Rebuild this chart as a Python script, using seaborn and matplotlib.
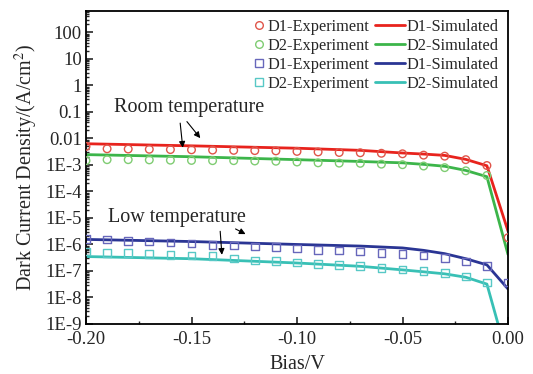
import numpy as np
import pandas as pd
import matplotlib
matplotlib.use("Agg")
import matplotlib.pyplot as plt
import matplotlib.ticker as mticker
from matplotlib.lines import Line2D
import seaborn as sns

# ---------------- data ----------------
bias_exp = [-0.20, -0.19, -0.18, -0.17, -0.16, -0.15, -0.14, -0.13, -0.12, -0.11,
            -0.10, -0.09, -0.08, -0.07, -0.06, -0.05, -0.04, -0.03, -0.02, -0.01, 0.00]

d1_room_exp = [5.0e-3, 4.07e-3, 3.98e-3, 3.89e-3, 3.80e-3, 3.72e-3, 3.63e-3, 3.55e-3, 3.47e-3, 3.39e-3,
               3.24e-3, 3.09e-3, 2.95e-3, 2.88e-3, 2.75e-3, 2.63e-3, 2.34e-3, 2.14e-3, 1.58e-3, 9.5e-4, 1.8e-6]
d2_room_exp = [1.45e-3, 1.58e-3, 1.58e-3, 1.55e-3, 1.51e-3, 1.48e-3, 1.45e-3, 1.45e-3, 1.41e-3, 1.38e-3,
               1.29e-3, 1.20e-3, 1.17e-3, 1.15e-3, 1.07e-3, 1.02e-3, 9.1e-4, 7.9e-4, 6.0e-4, 4.0e-4]
d1_low_exp = [1.58e-6, 1.55e-6, 1.38e-6, 1.29e-6, 1.17e-6, 1.07e-6, 9.8e-7, 9.1e-7, 8.5e-7, 7.9e-7,
              7.1e-7, 6.3e-7, 5.9e-7, 5.4e-7, 4.8e-7, 4.4e-7, 3.9e-7, 3.1e-7, 2.3e-7, 1.58e-7, 3.7e-8]
d2_low_exp = [5.4e-7, 4.8e-7, 4.7e-7, 4.3e-7, 4.1e-7, 3.9e-7, 3.7e-7, 2.95e-7, 2.45e-7, 2.35e-7,
              2.1e-7, 1.86e-7, 1.7e-7, 1.55e-7, 1.32e-7, 1.12e-7, 9.8e-8, 8.5e-8, 6.2e-8, 3.7e-8]

bias_sim = [-0.20, -0.15, -0.10, -0.07, -0.05, -0.04, -0.03, -0.02, -0.01, 0.00]
d1_room_sim = [6.3e-3, 5.25e-3, 4.27e-3, 3.55e-3, 2.82e-3, 2.57e-3, 2.29e-3, 1.62e-3, 9.3e-4, 3.2e-6]
d2_room_sim = [2.45e-3, 2.04e-3, 1.58e-3, 1.35e-3, 1.20e-3, 1.05e-3, 8.9e-4, 6.2e-4, 3.6e-4, 4.2e-7]
d1_low_sim = [1.55e-6, 1.29e-6, 1.0e-6, 8.7e-7, 7.4e-7, 6.0e-7, 4.5e-7, 2.9e-7, 1.7e-7, 2.1e-8]
d2_low_sim = [3.5e-7, 2.9e-7, 2.0e-7, 1.5e-7, 1.1e-7, 9.3e-8, 7.8e-8, 5.8e-8, 3.2e-8, 4.6e-11]

ytick_values = [1e2, 1e1, 1e0, 1e-1, 1e-2, 1e-3, 1e-4, 1e-5, 1e-6, 1e-7, 1e-8, 1e-9]
ytick_labels = ["100", "10", "1", "0.1", "0.01", "1E-3", "1E-4", "1E-5", "1E-6", "1E-7", "1E-8", "1E-9"]
xtick_values = [-0.20, -0.15, -0.10, -0.05, 0.00]
xtick_labels = ["-0.20", "-0.15", "-0.10", "-0.05", "0.00"]

exp_labels = ["D1-Experiment", "D2-Experiment", "D1-Experiment", "D2-Experiment"]
sim_labels = ["D1-Simulated", "D2-Simulated", "D1-Simulated", "D2-Simulated"]

# ---------------- style ----------------
sns.set_style("ticks")
plt.rcParams["font.family"] = ["Liberation Serif", "DejaVu Serif"]
plt.rcParams["mathtext.fontset"] = "stix"

line_colors = ["#e8231d", "#3cb54a", "#2a3594", "#38c0b5"]
mark_colors = ["#e0554a", "#7fcc72", "#6767bb", "#58c8c6"]
markers = ["o", "o", "s", "s"]

fig = plt.figure(figsize=(5.33, 3.74), dpi=100)
ax = fig.add_axes([86 / 533, 1 - 324 / 374, 422 / 533, 313 / 374])

exp_sets = [d1_room_exp, d2_room_exp, d1_low_exp, d2_low_exp]
sim_sets = [d1_room_sim, d2_room_sim, d1_low_sim, d2_low_sim]

for vals, c, lab in zip(sim_sets, line_colors, sim_labels):
    df = pd.DataFrame({"bias": bias_sim[:len(vals)], "J": vals})
    sns.lineplot(data=df, x="bias", y="J", ax=ax, color=c, lw=2.0,
                 estimator=None, sort=False, zorder=2)

for vals, c, m in zip(exp_sets, mark_colors, markers):
    df = pd.DataFrame({"bias": bias_exp[:len(vals)], "J": vals})
    sns.scatterplot(data=df, x="bias", y="J", ax=ax, marker=m, s=30,
                    facecolor="none", edgecolor=c, linewidth=1.0, zorder=3)

ax.set_yscale("log")
ax.set_xlim(-0.20, 0.00)
ax.set_ylim(1e-9, 6.4e2)

ax.yaxis.set_major_locator(mticker.FixedLocator(ytick_values))
ax.yaxis.set_major_formatter(mticker.FixedFormatter(ytick_labels))
ax.yaxis.set_minor_locator(mticker.LogLocator(base=10, subs=np.arange(2, 10), numticks=30))
ax.yaxis.set_minor_formatter(mticker.NullFormatter())
ax.xaxis.set_major_locator(mticker.FixedLocator(xtick_values))
ax.xaxis.set_major_formatter(mticker.FixedFormatter(xtick_labels))
ax.xaxis.set_minor_locator(mticker.MultipleLocator(0.025))

ax.tick_params(axis="both", which="major", direction="in", length=5, width=1.2,
               labelsize=13.5, top=False, right=False)
ax.tick_params(axis="y", which="major", pad=3)
ax.tick_params(axis="x", which="major", pad=5)
ax.tick_params(axis="both", which="minor", direction="in", length=2.5, width=1.0,
               top=False, right=False)
for sp in ax.spines.values():
    sp.set_visible(True)
    sp.set_linewidth(1.3)
    sp.set_color("black")

ax.set_xlabel("Bias/V", fontsize=14.5, labelpad=5)
ax.set_ylabel("Dark Current Density/(A/cm$^2$)", fontsize=14.5, labelpad=4)

# annotations
ax.text(-0.1512, 0.148, "Room temperature", fontsize=14.5, ha="center", va="center")
ax.annotate("", xy=(-0.154, 3.5e-3), xytext=(-0.1555, 0.048),
            arrowprops=dict(arrowstyle="-|>", color="black", lw=0.8, mutation_scale=9))
ax.annotate("", xy=(-0.145, 8.5e-3), xytext=(-0.153, 0.052),
            arrowprops=dict(arrowstyle="-|>", color="black", lw=0.8, mutation_scale=9))
ax.text(-0.1571, 1.07e-5, "Low temperature", fontsize=14.5, ha="center", va="center")
ax.annotate("", xy=(-0.1355, 3.2e-7), xytext=(-0.1365, 4.0e-6),
            arrowprops=dict(arrowstyle="-|>", color="black", lw=0.8, mutation_scale=9))
ax.annotate("", xy=(-0.1232, 2.2e-6), xytext=(-0.1303, 4.3e-6),
            arrowprops=dict(arrowstyle="-|>", color="black", lw=0.8, mutation_scale=9))

# legends
exp_handles = [Line2D([], [], ls="", marker=m, markersize=5.5, mfc="none", mec=c, mew=1.0)
               for m, c in zip(markers, mark_colors)]
sim_handles = [Line2D([], [], color=c, lw=2.0) for c in line_colors]

leg1 = ax.legend(exp_handles, exp_labels, loc="upper left", bbox_to_anchor=(0.400, 0.974),
                 frameon=False, fontsize=11.8, handlelength=0.5, handletextpad=0.25,
                 labelspacing=0.18, borderpad=0, borderaxespad=0)
ax.add_artist(leg1)
ax.legend(sim_handles, sim_labels, loc="upper left", bbox_to_anchor=(0.685, 0.974),
          frameon=False, fontsize=11.8, handlelength=1.8, handletextpad=0.1,
          labelspacing=0.18, borderpad=0, borderaxespad=0)

fig.savefig("out.png", dpi=100)
